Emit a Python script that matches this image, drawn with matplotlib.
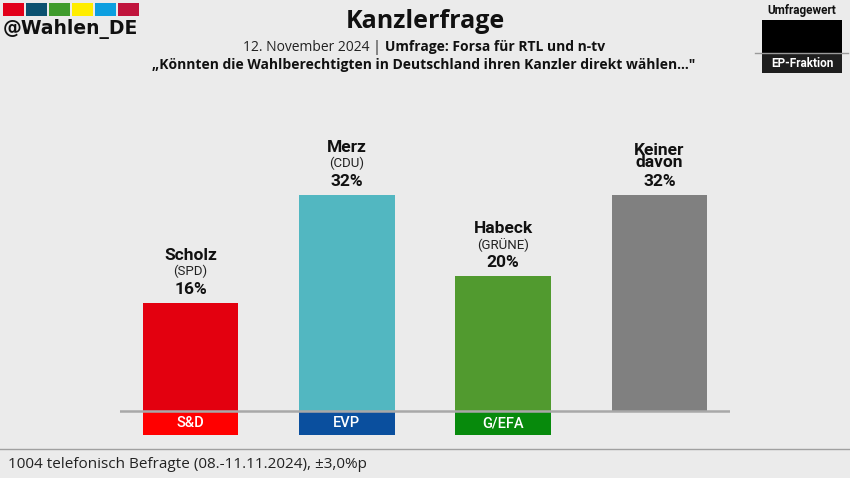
import matplotlib.pyplot as plt
from matplotlib.patches import Rectangle

# data
names = ["Scholz", "Merz", "Habeck", "Keiner\ndavon"]
parties = ["(SPD)", "(CDU)", "(GRÜNE)", ""]
values = [16, 32, 20, 32]
bar_colors = ["#e3000f", "#52b7c1", "#519a2f", "#808080"]
groups = ["S&D", "EVP", "G/EFA", ""]
group_colors = ["#ff0000", "#0a4f9e", "#078a0c", "none"]
stripe_colors = ["#e2001a", "#0b5170", "#3f9b2c", "#ffed00", "#0c9fe0", "#c0143c"]

W, H = 850, 478
BG = "#ebebeb"

fig = plt.figure(figsize=(W / 100, H / 100), dpi=100, facecolor=BG)

# overlay axes in pixel coords (y from top)
deco = fig.add_axes([0, 0, 1, 1], facecolor="none")
deco.set_xlim(0, W)
deco.set_ylim(H, 0)
deco.axis("off")

# bar axes
ppu = 6.75  # px per percent
ymin, ymax = -3.6, 40
bottom_px = 411 - ymin * ppu
ax = fig.add_axes([120 / W, (H - bottom_px) / H, 610 / W, (ymax - ymin) * ppu / H],
                  facecolor="none")
x = range(len(values))
ax.bar(x, values, width=0.61, color=bar_colors, zorder=2)
for i, (g, c) in enumerate(zip(groups, group_colors)):
    if g:
        ax.bar(i, ymin, width=0.61, color=c, zorder=2)
        ax.text(i, ymin / 2, g, ha="center", va="center", color="white",
                fontsize=10.5, fontweight="medium", family="Roboto")
ax.axhline(0, color="#a8a8a8", lw=1.8, zorder=3)
ax.set_xlim(-0.452, 3.452)
ax.set_ylim(ymin, ymax)
ax.axis("off")

for i, v in enumerate(values):
    ax.annotate(f"{v}%", (i, v), xytext=(0, 9.5), textcoords="offset points",
                ha="center", va="center", fontsize=12.5, fontweight="bold",
                family="Roboto", color="#111")
    if parties[i]:
        ax.annotate(parties[i], (i, v), xytext=(0, 22.5), textcoords="offset points",
                    ha="center", va="center", fontsize=9.5, family="Roboto", color="#222")
        ax.annotate(names[i], (i, v), xytext=(0, 34.5), textcoords="offset points",
                    ha="center", va="center", fontsize=12.5, fontweight="bold",
                    family="Roboto", color="#111")
    else:
        ax.annotate(names[i], (i, v), xytext=(0, 27.5), textcoords="offset points",
                    ha="center", va="center", fontsize=12.5, fontweight="bold",
                    family="Roboto", color="#111", linespacing=0.75)

# header stripes + handle
sx = 3
for c in stripe_colors:
    deco.add_patch(Rectangle((sx, 3), 21.5, 13, color=c, lw=0))
    sx += 23
deco.text(3, 29, "@Wahlen_DE", fontsize=13.5, fontweight="bold", family="DejaVu Sans",
          va="center", ha="left", color="#111")

# title
deco.text(425, 21, "Kanzlerfrage", fontsize=18, fontweight="bold", family="Open Sans",
          ha="center", va="center", color="#111")
t1 = deco.text(0, 47, "12. November 2024 | ", fontsize=10, family="Open Sans",
               ha="left", va="center", color="#222")
t2 = deco.text(0, 47, "Umfrage: Forsa für RTL und n-tv", fontsize=10, fontweight="bold",
               family="Open Sans", ha="left", va="center", color="#111")
r = fig.canvas.get_renderer()
w1 = t1.get_window_extent(r).width
w2 = t2.get_window_extent(r).width
start = 424 - (w1 + w2) / 2
t1.set_x(start)
t2.set_x(start + w1)
deco.text(424, 65, "\u201eKönnten die Wahlberechtigten in Deutschland ihren Kanzler direkt wählen...\"",
          fontsize=10, fontweight="bold", family="Open Sans", ha="center", va="center",
          color="#111")

# legend box top right
deco.text(802, 10, "Umfragewert", fontsize=8.5, fontweight="bold", family="Roboto",
          ha="center", va="center", color="#111")
deco.add_patch(Rectangle((762, 20), 80, 33, color="black", lw=0))
deco.add_patch(Rectangle((762, 53), 80, 20, color="#1e1e1e", lw=0))
deco.plot([755, 848], [52.5, 52.5], color="#9a9a9a", lw=1)
deco.text(802, 63, "EP-Fraktion", fontsize=8.5, fontweight="bold", family="Roboto",
          ha="center", va="center", color="white")

# footer
deco.plot([0, W], [449, 449], color="#a0a0a0", lw=1)
deco.text(8, 465, "1004 telefonisch Befragte (08.-11.11.2024), ±3,0%p", fontsize=11,
          family="Open Sans", ha="left", va="center", color="#222")

fig.savefig("out.png", dpi=100, facecolor=BG)
